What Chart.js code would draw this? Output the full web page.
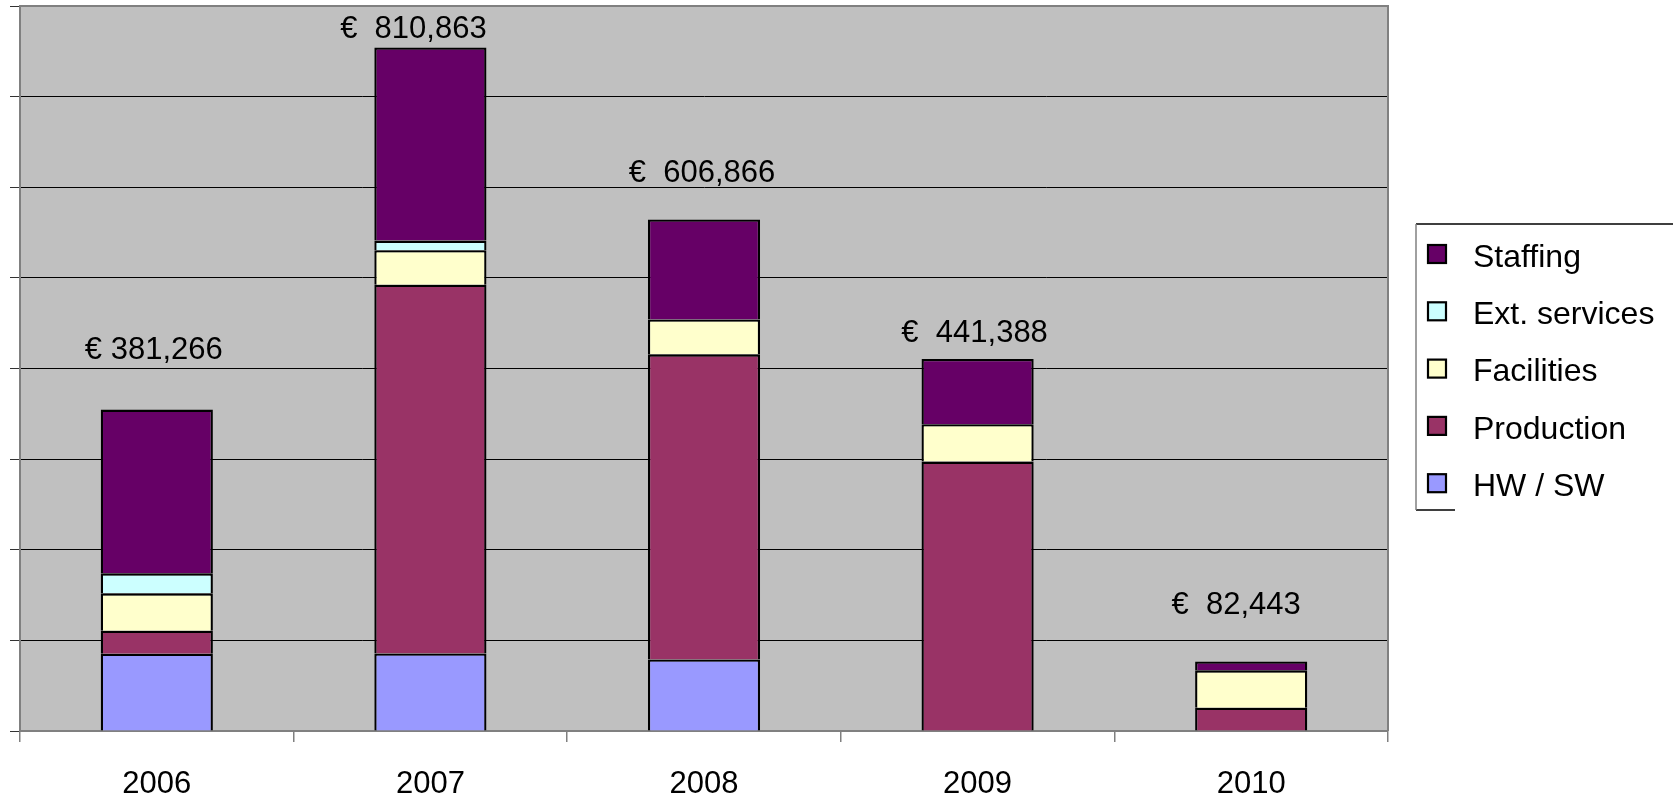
<!DOCTYPE html>
<html>
<head>
<meta charset="utf-8">
<script src="https://cdn.jsdelivr.net/npm/chart.js@4/dist/chart.umd.min.js"></script>
<style>
  html, body { margin: 0; padding: 0; background: #ffffff; }
  #wrap { width: 1673px; height: 797px; position: relative; }
</style>
</head>
<body>
<div id="wrap"><canvas id="c" width="1673" height="797"></canvas></div>
<script>
// ---- data ----
const categories = ['2006', '2007', '2008', '2009', '2010'];
const hwSw        = [91700, 92000, 84900, null, null];
const production  = [27300, 437300, 361866, 319588, 27643];
const facilities  = [44300, 40900, 41500, 44300, 44300];
const extServices = [23700, 11500, null, null, null];
const staffing    = [194266, 229163, 118600, 77500, 10500];
const totalLabels = ['€ 381,266', '€  810,863', '€  606,866', '€  441,388', '€  82,443'];
const yMax = 860000;
const yStep = 107500;

const FONT = '"Liberation Sans", Arial, Helvetica, sans-serif';

const plotBg = {
  id: 'plotBg',
  beforeDraw(chart) {
    const { ctx, chartArea: a } = chart;
    ctx.save();
    ctx.fillStyle = '#ffffff';
    ctx.fillRect(0, 0, chart.width, chart.height);
    ctx.fillStyle = '#c0c0c0';
    ctx.fillRect(a.left, a.top, a.right - a.left, a.bottom - a.top);
    ctx.restore();
  },
  beforeDatasetsDraw(chart) {
    const { ctx, chartArea: a } = chart;
    ctx.save();
    ctx.strokeStyle = '#808080';
    ctx.lineWidth = 2;
    ctx.beginPath();
    ctx.moveTo(a.left, a.top);
    ctx.lineTo(a.right, a.top);
    ctx.lineTo(a.right, a.bottom);
    ctx.stroke();
    ctx.restore();
  }
};

const totalsPlugin = {
  id: 'totals',
  afterDatasetsDraw(chart, args, opts) {
    const { ctx } = chart;
    const xs = chart.scales.x, ys = chart.scales.y;
    ctx.save();
    ctx.font = '31px ' + FONT;
    ctx.fillStyle = '#000';
    ctx.textAlign = 'center';
    ctx.textBaseline = 'middle';
    totalLabels.forEach((t, i) => {
      const x = xs.getPixelForValue(i) + opts.dx[i];
      const y = ys.getPixelForValue(opts.levels[i]);
      ctx.fillText(t, x, y);
    });
    ctx.restore();
  }
};

const legendPlugin = {
  id: 'boxLegend',
  afterDraw(chart, args, opts) {
    const { ctx } = chart;
    const ds = chart.data.datasets.slice().reverse();
    ctx.save();
    ctx.lineWidth = 1.5;
    ctx.strokeStyle = '#000';
    ctx.beginPath();
    ctx.moveTo(opts.left, opts.top);
    ctx.lineTo(chart.width, opts.top);
    ctx.moveTo(opts.left, opts.bottom);
    ctx.lineTo(opts.left + 39, opts.bottom);
    ctx.stroke();
    ctx.strokeStyle = '#808080';
    ctx.beginPath();
    ctx.moveTo(opts.left, opts.top);
    ctx.lineTo(opts.left, opts.bottom);
    ctx.stroke();
    ctx.font = '32px ' + FONT;
    ctx.textAlign = 'left';
    ctx.textBaseline = 'middle';
    ds.forEach((d, i) => {
      const cy = opts.firstRow + i * opts.rowGap;
      const s = 18;
      const sx = opts.left + 12, sy = cy - 3 - s / 2;
      ctx.fillStyle = d.backgroundColor;
      ctx.fillRect(sx, sy, s, s);
      ctx.strokeStyle = '#000';
      ctx.lineWidth = 2.2;
      ctx.strokeRect(sx, sy, s, s);
      ctx.fillStyle = '#000';
      ctx.fillText(d.label, opts.left + 57, cy + 1);
    });
    ctx.restore();
  }
};

const common = {
  borderColor: '#000',
  borderWidth: { top: 2.3, left: 2.3, right: 2.3, bottom: 0 },
  borderSkipped: false
};

new Chart(document.getElementById('c'), {
  type: 'bar',
  data: {
    labels: categories,
    datasets: [
      { label: 'HW / SW', data: hwSw, backgroundColor: '#9999ff', ...common },
      { label: 'Production', data: production, backgroundColor: '#993366', ...common },
      { label: 'Facilities', data: facilities, backgroundColor: '#ffffcc', ...common },
      { label: 'Ext. services', data: extServices, backgroundColor: '#ccffff', ...common },
      { label: 'Staffing', data: staffing, backgroundColor: '#660066', ...common }
    ]
  },
  options: {
    responsive: false,
    animation: false,
    devicePixelRatio: 1,
    layout: { padding: { left: 10, right: 285, top: 6, bottom: 0 } },
    datasets: { bar: { categoryPercentage: 1, barPercentage: 0.41 } },
    plugins: {
      legend: { display: false },
      tooltip: { enabled: false },
      totals: {
        levels: [452000, 832500, 661500, 471700, 148900],
        dx: [-3, -17, -2, -3, -15]
      },
      boxLegend: { left: 1416, top: 224, bottom: 510, firstRow: 257, rowGap: 57.3 }
    },
    scales: {
      x: {
        stacked: true,
        border: { color: '#808080', width: 2 },
        grid: { offset: true, drawOnChartArea: false, drawTicks: true, tickLength: 11, color: '#808080', lineWidth: 1.5 },
        ticks: { color: '#000', padding: 27, font: { family: FONT, size: 31, lineHeight: 1 } },
        afterFit(scale) { scale.height = 66; }
      },
      y: {
        stacked: true,
        min: 0,
        max: yMax,
        border: { color: '#808080', width: 2 },
        grid: {
          drawTicks: true,
          tickLength: 10,
          color: (c) => (c.tick && c.tick.value >= yMax ? '#808080' : '#000'),
          tickColor: '#333',
          lineWidth: 1
        },
        ticks: { display: false, stepSize: yStep }
      }
    }
  },
  plugins: [plotBg, totalsPlugin, legendPlugin]
});
</script>
</body>
</html>
